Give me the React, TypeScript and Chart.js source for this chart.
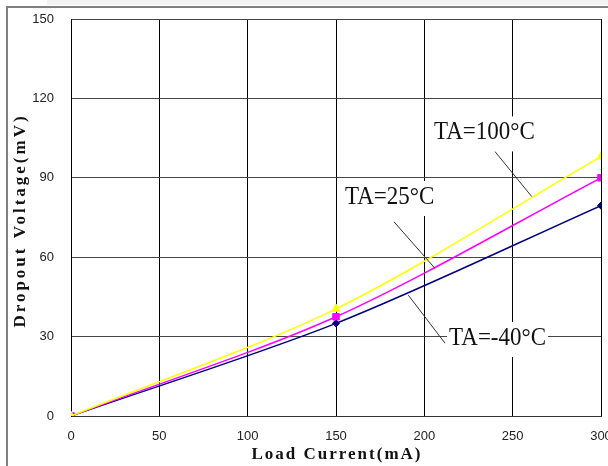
import { useEffect, useRef } from 'react';
import { Chart, registerables } from 'chart.js';

Chart.register(...registerables);

// ---- data ----
const loadCurrent = [0, 150, 300];
const ta100 = [0, 40.5, 98];
const ta25 = [0, 37.5, 90];
const taMinus40 = [0, 35, 79.5];
const seriesNames = ['TA=100°C', 'TA=25°C', 'TA=-40°C'];
const xTickValues = [0, 50, 100, 150, 200, 250, 300];
const yTickValues = [0, 30, 60, 90, 120, 150];
const xTitle = 'Load Current(mA)';
const yTitle = 'Dropout Voltage(mV)';

// callouts: text anchor (left, baseline) and leader line, in data units
const calloutText = ['TA=100°C', 'TA=25°C', 'TA=-40°C'];
const calloutAnchor = [
  [205.5, 104.5],
  [155.1, 80.1],
  [214, 26.8],
];
const calloutLeaderFrom = [
  [240, 99.9],
  [182.8, 73.4],
  [190.9, 45.7],
];
const calloutLeaderTo = [
  [260.8, 82.9],
  [206, 55.8],
  [211.7, 27.5],
];

const W = 608;
const H = 466;
const tickFont = "'Liberation Sans Narrow', 'Liberation Sans', Arial, sans-serif";
const serif = "'Liberation Serif', 'Times New Roman', serif";

const decorPlugin = {
  id: 'decor',
  beforeDraw(chart: any) {
    const ctx = chart.ctx as CanvasRenderingContext2D;
    ctx.save();
    ctx.fillStyle = '#ffffff';
    ctx.fillRect(0, 0, W, H);
    ctx.fillStyle = '#f3f3f3';
    ctx.fillRect(47, 0, W - 47, 5);
    ctx.fillStyle = '#808080';
    ctx.fillRect(6, 6, W - 6, 2);
    ctx.fillRect(6, 6, 2, H - 6);
    ctx.restore();
  },
  beforeDatasetsDraw(chart: any) {
    const ctx = chart.ctx as CanvasRenderingContext2D;
    const xs = chart.scales.x;
    const ys = chart.scales.y;
    ctx.save();
    ctx.font = `25px ${serif}`;
    calloutText.forEach((t, i) => {
      const px = xs.getPixelForValue(calloutAnchor[i][0]);
      const py = ys.getPixelForValue(calloutAnchor[i][1]);
      const w = ctx.measureText(t).width * 0.92;
      ctx.fillStyle = '#ffffff';
      ctx.fillRect(px - 2, py - 23, w + 4, 35);
    });
    ctx.restore();
  },
  afterDatasetsDraw(chart: any) {
    const ctx = chart.ctx as CanvasRenderingContext2D;
    const xs = chart.scales.x;
    const ys = chart.scales.y;
    ctx.save();
    ctx.strokeStyle = '#333333';
    ctx.lineWidth = 1;
    calloutText.forEach((_, i) => {
      ctx.beginPath();
      ctx.moveTo(xs.getPixelForValue(calloutLeaderFrom[i][0]), ys.getPixelForValue(calloutLeaderFrom[i][1]));
      ctx.lineTo(xs.getPixelForValue(calloutLeaderTo[i][0]), ys.getPixelForValue(calloutLeaderTo[i][1]));
      ctx.stroke();
    });
    ctx.font = `25px ${serif}`;
    ctx.fillStyle = '#111111';
    ctx.textAlign = 'left';
    ctx.textBaseline = 'alphabetic';
    calloutText.forEach((t, i) => {
      const px = xs.getPixelForValue(calloutAnchor[i][0]);
      const py = ys.getPixelForValue(calloutAnchor[i][1]);
      ctx.save();
      ctx.translate(px, py);
      ctx.scale(0.92, 1);
      ctx.fillText(t, 0, 0);
      ctx.restore();
    });
    ctx.restore();
  },
  afterDraw(chart: any) {
    const ctx = chart.ctx as CanvasRenderingContext2D;
    const area = chart.chartArea;
    ctx.save();
    ctx.fillStyle = '#111111';
    ctx.textAlign = 'center';
    ctx.textBaseline = 'middle';
    ctx.font = `bold 17px ${serif}`;
    (ctx as any).letterSpacing = '2px';
    ctx.fillText(xTitle, (area.left + area.right) / 2 + 1, 455);
    ctx.save();
    ctx.translate(21, 222);
    ctx.rotate(-Math.PI / 2);
    (ctx as any).letterSpacing = '3px';
    ctx.fillText(yTitle, 1.5, 0);
    ctx.restore();
    ctx.restore();
  },
};

function toPoints(ys: number[]) {
  return loadCurrent.map((x, i) => ({ x, y: ys[i] }));
}

export default function App() {
  const ref = useRef<HTMLCanvasElement | null>(null);

  useEffect(() => {
    if (!ref.current) return;
    const chart = new Chart(ref.current, {
      type: 'line',
      data: {
        datasets: [
          {
            label: seriesNames[0],
            data: toPoints(ta100),
            borderColor: '#ffff00',
            backgroundColor: '#ffff00',
            borderWidth: 1.5,
            pointStyle: 'triangle',
            pointRadius: 4.8,
            pointBorderWidth: 1,
            tension: 0.3,
          },
          {
            label: seriesNames[1],
            data: toPoints(ta25),
            borderColor: '#ff00ff',
            backgroundColor: '#ff00ff',
            borderWidth: 1.5,
            pointStyle: 'rect',
            pointRadius: 4.6,
            pointBorderWidth: 1,
            tension: 0.3,
          },
          {
            label: seriesNames[2],
            data: toPoints(taMinus40),
            borderColor: '#000080',
            backgroundColor: '#000080',
            borderWidth: 1.5,
            pointStyle: 'rectRot',
            pointRadius: 3.6,
            pointBorderWidth: 1,
            tension: 0.3,
          },
        ],
      },
      options: {
        responsive: false,
        animation: false,
        devicePixelRatio: 1,
        layout: { padding: { left: 0, top: 19, right: 7, bottom: 0 } },
        plugins: {
          legend: { display: false },
          tooltip: { enabled: false },
        },
        scales: {
          x: {
            type: 'linear',
            min: 0,
            max: 300,
            afterBuildTicks: (s: any) => {
              s.ticks = xTickValues.map((v) => ({ value: v }));
            },
            afterFit: (s: any) => {
              s.height = 50;
              s.paddingLeft = 0;
              s.paddingRight = 0;
            },
            grid: { color: '#000000', lineWidth: 1, drawTicks: false },
            border: { display: true, color: '#333333', width: 1 },
            ticks: {
              padding: 13,
              color: '#222222',
              font: { family: tickFont, size: 13 },
              maxRotation: 0,
              autoSkip: false,
            },
            title: { display: false },
          },
          y: {
            type: 'linear',
            min: 0,
            max: 150,
            afterBuildTicks: (s: any) => {
              s.ticks = yTickValues.map((v) => ({ value: v }));
            },
            afterFit: (s: any) => {
              s.width = 71;
              s.paddingTop = 0;
              s.paddingBottom = 0;
            },
            grid: { color: '#444444', lineWidth: 1, drawTicks: false },
            border: { display: true, color: '#000000', width: 1 },
            ticks: {
              padding: 17,
              color: '#222222',
              font: { family: tickFont, size: 13 },
              autoSkip: false,
            },
            title: { display: false },
          },
        },
      },
      plugins: [decorPlugin],
    } as any);
    return () => chart.destroy();
  }, []);

  return (
    <div style={{ position: 'fixed', left: 0, top: 0, width: W, height: H, background: '#fff' }}>
      <canvas ref={ref} width={W} height={H} style={{ display: 'block', width: W, height: H }} />
    </div>
  );
}
